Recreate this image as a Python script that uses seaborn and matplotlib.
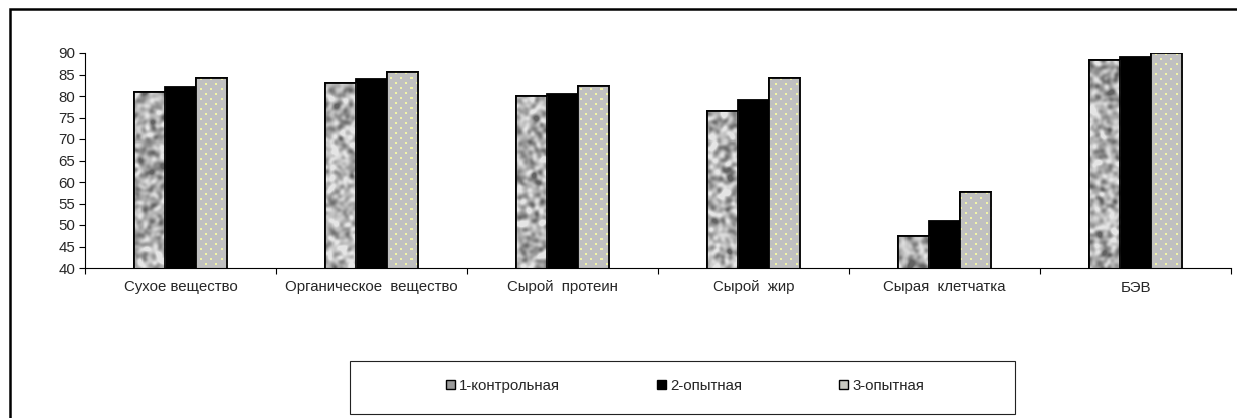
import numpy as np
import pandas as pd
import matplotlib
matplotlib.use("Agg")
import matplotlib.pyplot as plt
from matplotlib.patches import Rectangle, Patch
import seaborn as sns

# Digestibility coefficients, %
categories = ["Сухое вещество", "Органическое  вещество", "Сырой  протеин",
              "Сырой  жир", "Сырая  клетчатка", "БЭВ"]
groups = ["1-контрольная", "2-опытная", "3-опытная"]
group1 = [81.0, 83.0, 80.0, 76.6, 47.4, 88.3]
group2 = [82.0, 84.0, 80.4, 79.0, 50.9, 89.0]
group3 = [84.1, 85.6, 82.3, 84.1, 57.7, 89.9]
y_ticks = [40, 45, 50, 55, 60, 65, 70, 75, 80, 85, 90]

df = pd.DataFrame({
    "cat": categories * 3,
    "group": [g for g in groups for _ in categories],
    "val": group1 + group2 + group3,
})

sns.set_theme(style="white")
plt.rcParams["font.family"] = ["Liberation Sans", "DejaVu Sans"]
FS = 10.8

W, H = 1237, 418
fig = plt.figure(figsize=(W / 100, H / 100), dpi=100)
ax_l, ax_r, ax_t, ax_b = 85, 1231, 53, 268
ax = fig.add_axes([ax_l / W, 1 - ax_b / H, (ax_r - ax_l) / W, (ax_b - ax_t) / H])

sns.barplot(data=df, x="cat", y="val", hue="group", order=categories,
            hue_order=groups, palette=["#a8a8a8", "#000000", "#c0c0c0"],
            width=0.49, gap=0, edgecolor="black", linewidth=1.3,
            legend=False, ax=ax)

ax.set_xlim(-0.5, len(categories) - 0.5)
ax.set_ylim(40, 90)
ax.set_yticks(y_ticks)
ax.set_xlabel("")
ax.set_ylabel("")

# category boundaries carry the ticks, names sit between them
ax.set_xticks(np.arange(len(categories) + 1) - 0.5)
ax.set_xticklabels([])
ax.set_xticks(np.arange(len(categories)), minor=True)
ax.set_xticklabels(categories, minor=True, fontsize=FS)
ax.tick_params(axis="x", which="major", length=4, width=0.8, direction="out",
               color="black", bottom=True)
ax.tick_params(axis="x", which="minor", length=0, pad=9)
ax.tick_params(axis="y", length=4, width=0.8, direction="out", color="black",
               left=True, labelsize=FS, pad=3)
for s in ["top", "right"]:
    ax.spines[s].set_visible(False)
for s in ["left", "bottom"]:
    ax.spines[s].set_color("black")
    ax.spines[s].set_linewidth(0.8)

# pixel-sized textures spanning the plotting area
pw, ph = ax_r - ax_l, ax_b - ax_t
rng = np.random.default_rng(7)
noise = rng.standard_normal((ph, pw))
fy = np.fft.fftfreq(ph)[:, None]
fx = np.fft.fftfreq(pw)[None, :]
kern = np.exp(-(fx ** 2 + fy ** 2) * (2 * np.pi * 2.0) ** 2 / 2)
marble = np.real(np.fft.ifft2(np.fft.fft2(noise) * kern))
marble = (marble - marble.mean()) / marble.std()
marble = 178 + 32 * np.clip(marble, -2.5, 1.6)
marble = np.clip(marble, 80, 232)
marble_rgb = np.repeat(marble[:, :, None], 3, axis=2) / 255.0

dots = np.ones((ph, pw, 3)) * (192 / 255.0)
yy, xx = np.mgrid[0:ph, 0:pw]
row = yy // 5
on = ((yy % 5) < 2) & (((xx + (row % 2) * 5) % 10) < 2)
dots[on] = np.array([242, 244, 168]) / 255.0

extent = (-0.5, len(categories) - 0.5, 40, 90)
for cont, tex in [(ax.containers[0], marble_rgb), (ax.containers[2], dots)]:
    for bar in cont:
        im = ax.imshow(tex, extent=extent, aspect="auto", origin="upper",
                       interpolation="nearest", zorder=bar.get_zorder() + 0.1)
        im.set_clip_path(bar)
        ax.add_patch(Rectangle((bar.get_x(), bar.get_y()), bar.get_width(),
                               bar.get_height(), fill=False, edgecolor="black",
                               linewidth=1.3, zorder=bar.get_zorder() + 0.2))
ax.set_xlim(-0.5, len(categories) - 0.5)
ax.set_ylim(40, 90)

# legend with its own box
handles = [Patch(facecolor=c, edgecolor="black", linewidth=1.0)
           for c in ["#9a9a9a", "#000000", "#c8c8c0"]]
fig.legend(handles, groups, loc="center", ncol=3, frameon=False, fontsize=FS,
           bbox_to_anchor=(685 / W, 1 - 386 / H), handlelength=0.6,
           handleheight=0.6, handletextpad=0.3, columnspacing=6.45)
fig.add_artist(Rectangle((350 / W, 1 - 414 / H), 665 / W, 53 / H,
                         transform=fig.transFigure, fill=False,
                         edgecolor="#222222", linewidth=0.8))

# outer chart frame
fig.add_artist(Rectangle((10 / W, -0.2), 1.5, 1.2 - 9 / H,
                         transform=fig.transFigure, fill=False,
                         edgecolor="black", linewidth=1.8))

fig.savefig("out.png", dpi=100)
